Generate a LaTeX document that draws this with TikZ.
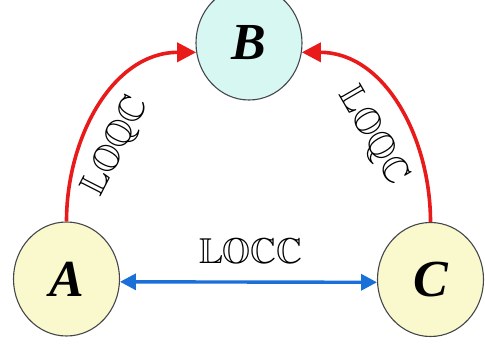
\documentclass[tikz,border=0pt]{standalone}
\usepackage{amssymb}
\usepackage{fontspec}
\newfontfamily\letterfont{Liberation Serif}
\usetikzlibrary{shapes.geometric,arrows.meta}
\definecolor{redarr}{HTML}{E81A1A}
\definecolor{bluearr}{HTML}{1A6FD8}
\definecolor{cyanfill}{HTML}{D7F8F2}
\definecolor{yelfill}{HTML}{FAF9CE}
\definecolor{edgegray}{HTML}{45474C}
\tikzset{
  party/.style={ellipse, draw=edgegray, line width=1.1pt, minimum width=106pt, minimum height=114pt, inner sep=0pt,
    font=\letterfont\bfseries\itshape\fontsize{52}{52}\selectfont},
  redlink/.style={draw=redarr, line width=3.6pt, -{Triangle[length=19pt,width=19pt]}},
  bluelink/.style={draw=bluearr, line width=3.4pt, {Triangle[length=16pt,width=16pt]}-{Triangle[length=16pt,width=16pt]}},
  chanlabel/.style={font=\fontsize{36}{36}\selectfont, inner sep=0pt}
}
\begin{document}
\begin{tikzpicture}[x=1pt,y=-1pt]
\useasboundingbox (0,0) rectangle (485,345);
\node[party, fill=cyanfill] (B) at (249,43) {B};
\node[party, fill=yelfill] (A) at (66.5,279) {A};
\node[party, fill=yelfill] (C) at (430.5,279.5) {C};
\draw[redlink] (A.north) to[out=90,in=180] (B.190);
\draw[redlink] (C.north) to[out=90,in=0] (B.350);
\draw[bluelink] (A.357) -- (C.183);
\node[chanlabel, rotate=63] (l1) at (116,146) {$\mathbb{LOQC}$};
\node[chanlabel, rotate=-60] (l2) at (373,136) {$\mathbb{LOQC}$};
\node[chanlabel] (l3) at (251,254) {$\mathbb{LOCC}$};
\end{tikzpicture}
\end{document}
